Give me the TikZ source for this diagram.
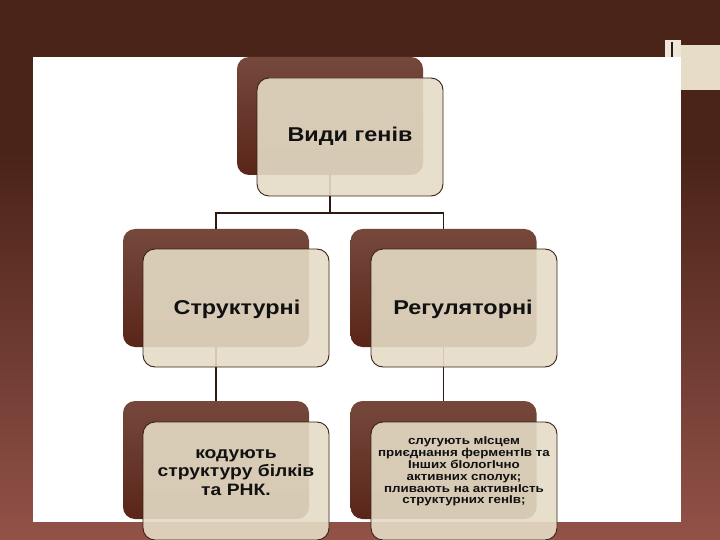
\documentclass[tikz,border=0pt]{standalone}
\usepackage{fontspec}
\setmainfont{Liberation Sans}
\definecolor{bgdark}{HTML}{4A2319}
\definecolor{bgred}{HTML}{925248}
\definecolor{bktop}{HTML}{76483C}
\definecolor{bkbot}{HTML}{5A2519}
\definecolor{frontfill}{HTML}{E5DCC6}
\definecolor{frontline}{HTML}{3A2216}
\definecolor{lncol}{HTML}{2E1810}
\definecolor{txtcol}{HTML}{111111}
\definecolor{beigepatch}{HTML}{E6DCC8}
\definecolor{lightpatch}{HTML}{EFE6DA}
\pgfdeclareverticalshading{bgsh}{100bp}{color(0bp)=(bgred); color(25bp)=(bgred); color(61bp)=(bgdark); color(100bp)=(bgdark)}
\begin{document}
\begin{tikzpicture}[x=1pt,y=-1pt,
  backbox/.style={rounded corners=12pt, minimum width=186pt, minimum height=118pt, inner sep=0pt, top color=bktop, bottom color=bkbot, draw=none},
  frontbox/.style={rounded corners=12pt, minimum width=186pt, minimum height=118pt, inner sep=0pt, fill=frontfill, fill opacity=0.9, draw=frontline, draw opacity=1, line width=0.9pt},
  bigtxt/.style={inner sep=0pt, text=txtcol, font=\fontsize{20}{24}\selectfont\bfseries},
  midtxt/.style={inner sep=0pt, text=txtcol, font=\fontsize{16.5}{18.5}\selectfont\bfseries},
  smalltxt/.style={inner sep=0pt, text=txtcol, font=\fontsize{11.4}{11.7}\selectfont\bfseries},
  conn/.style={draw=lncol, line width=1.5pt}]
\useasboundingbox (0,0) rectangle (720,540);
% background
\shade[shading=bgsh] (0,0) rectangle (720,540);
\fill[beigepatch] (665,45) rectangle (720,90);
\fill[lightpatch] (665,40) rectangle (681,57);
\fill[white] (33,57) rectangle (681,522);
\draw[lncol, line width=1.8pt] (672,42) -- (672,57);
% back boxes
\node[backbox] (tb) at (330,116) {};
\node[backbox] (lb) at (216,288) {};
\node[backbox] (rb) at (443.5,288) {};
\node[backbox] (blb) at (216,460) {};
\node[backbox] (brb) at (443.5,460) {};
% connectors
\coordinate (j) at (330,213);
\draw[conn] (tb.south) -- (j);
\draw[conn] (lb.north) |- (j) -| (rb.north);
\draw[conn] (lb.south) -- (blb.north);
\draw[conn] (rb.south) -- (brb.north);
% front boxes
\node[frontbox] (tf) at (350,137) {};
\node[frontbox] (lf) at (236,308) {};
\node[frontbox] (rf) at (464,308) {};
\node[frontbox] (blf) at (236,481) {};
\node[frontbox] (brf) at (464,481) {};
% texts
\node[bigtxt] (t1) at (350,136) {\scalebox{1.17}[1]{Види генів}};
\node[bigtxt] (t2) at (237,309) {\scalebox{1.17}[1]{Структурні}};
\node[bigtxt] (t3) at (463,309) {\scalebox{1.17}[1]{Регуляторні}};
\node[midtxt] (t4) at (236,473) {\scalebox{1.17}[1]{\begin{tabular}{@{}c@{}}кодують\\структуру білків\\та РНК.\end{tabular}}};
\node[smalltxt] (t5) at (464,472) {\scalebox{1.17}[1]{\begin{tabular}{@{}c@{}}слугують мІсцем\\приєднання ферментІв та\\Інших бІологІчно\\активних сполук;\\пливають на активнІсть\\структурних генІв;\end{tabular}}};
\end{tikzpicture}
\end{document}
